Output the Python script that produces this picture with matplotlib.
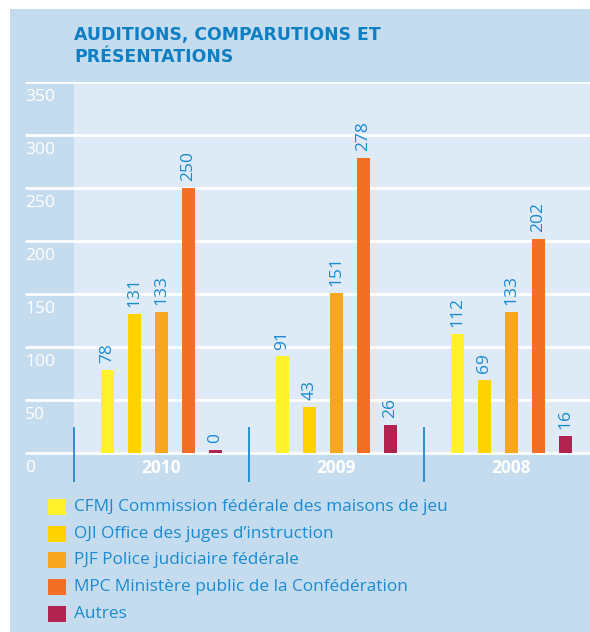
import matplotlib
matplotlib.use("Agg")
import matplotlib.pyplot as plt
import numpy as np
from matplotlib.patches import Rectangle


years = ["2010", "2009", "2008"]
series = [
    "CFMJ Commission fédérale des maisons de jeu",
    "OJI Office des juges d\u2019instruction",
    "PJF Police judiciaire fédérale",
    "MPC Ministère public de la Confédération",
    "Autres",
]
cfmj = [78, 91, 112]
oji = [131, 43, 69]
pjf = [133, 151, 133]
mpc = [250, 278, 202]
autres = [0, 26, 16]
yticks = [0, 50, 100, 150, 200, 250, 300, 350]

colors = ["#fff12b", "#ffd300", "#f9a61f", "#f36f24", "#b0244f"]
PANEL = "#c5dcef"
LIGHT = "#deeaf6"
TITLE = "#0d7fc2"
BLUE = "#1a8bd0"

plt.rcParams["font.family"] = ["Open Sans", "DejaVu Sans"]

W, H = 590, 632
fig = plt.figure(figsize=(W / 100, H / 100), dpi=100)
fig.patch.set_facecolor("white")

# blue panel behind everything
fig.add_artist(Rectangle((10 / W, 0), 1, 1 - 9 / H, transform=fig.transFigure,
                         facecolor=PANEL, edgecolor="none", zorder=-10))

ax = fig.add_axes([25 / W, 142 / H, (W - 25) / W, (490 - 82) / H])
ax.set_facecolor("none")
ax.set_axis_off()
xmin, xmax = -0.779, 2.45
ymin, ymax = -35, 350
ax.set_xlim(xmin, xmax)
ax.set_ylim(ymin, ymax)

# lighter plot area
ax.add_patch(Rectangle((-0.5, 0), xmax + 0.5, ymax, facecolor=LIGHT,
                       edgecolor="none", zorder=0))
ax.hlines(yticks, xmin, xmax, colors="white", lw=2, zorder=1)
for t in yticks:
    ax.text(0.0, t - 14.5, str(t), transform=ax.get_yaxis_transform(),
            ha="left", va="center", color="white", fontsize=12.5)

data = [cfmj, oji, pjf, mpc, autres]
x = np.arange(len(years))
step, bw = 0.1543, 0.0743
for i, (vals, c) in enumerate(zip(data, colors)):
    xs = x + (i - 2) * step
    h = np.maximum(vals, 2.5)
    ax.bar(xs, h, width=bw, color=c, zorder=2)
    for xx, hh, v in zip(xs, h, vals):
        ax.annotate(str(v), (xx, hh), xytext=(0, 5), textcoords="offset points",
                    rotation=90, ha="center", va="bottom", color=BLUE,
                    fontsize=12.5)

ax.vlines([-0.5, 0.5, 1.5], -27, 24.5, colors=BLUE, lw=1.3, zorder=3)
for xx, y in zip(x, years):
    ax.text(xx, -14, y, ha="center", va="center", color="white",
            fontsize=12.5, fontweight="bold")

fig.text(74 / W, 1 - 26 / H, "AUDITIONS, COMPARUTIONS ET\nPRÉSENTATIONS",
         ha="left", va="top", color=TITLE, fontsize=12.4, fontweight="bold",
         family="DejaVu Sans", linespacing=1.3)

# legend
for i, (lab, c) in enumerate(zip(series, colors)):
    yc = 507 + i * 26.7
    fig.add_artist(Rectangle((48 / W, 1 - (yc + 8) / H), 18 / W, 16 / H,
                             transform=fig.transFigure, facecolor=c,
                             edgecolor="none"))
    fig.text(74 / W, 1 - yc / H, lab, ha="left", va="center", color=BLUE,
             fontsize=12.4)

fig.savefig("out.png", dpi=100)
